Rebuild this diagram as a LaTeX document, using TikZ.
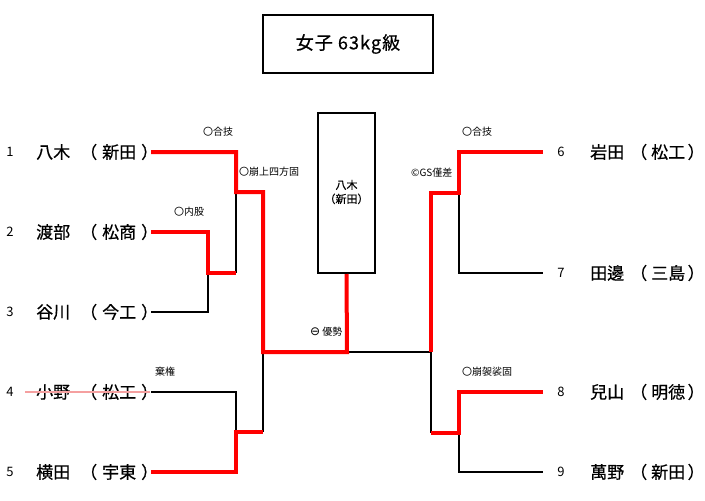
\documentclass[tikz,border=0pt]{standalone}
\usepackage{fontspec}
\setmainfont{Noto Sans CJK JP}
\newfontfamily\heavyfont[FakeBold=0.6]{Noto Sans CJK JP}
\newfontfamily\symfont{DejaVu Sans}
\usetikzlibrary{positioning}
\definecolor{strikepink}{RGB}{245,160,160}

\begin{document}
\begin{tikzpicture}[x=1pt, y=-1pt,
  win/.style={line width=4pt, red},
  lose/.style={line width=2pt, black},
  namefont/.style={font=\heavyfont\fontsize{17}{17}\selectfont, inner sep=0pt},
  numfont/.style={font=\fontsize{13}{13}\selectfont, inner sep=0pt},
  techfont/.style={font=\fontsize{10}{10}\selectfont, inner sep=0pt, anchor=west},
  frame/.style={draw, line width=2pt, inner sep=0pt}]

  % Parameters
  \def\xl{80}       % left edge of left clubs
  \def\xc{630}      % left edge of right clubs
  \def\xr{543}      % end of right lines
  \useasboundingbox (0,0) rectangle (705,501);

  % Title
  \node[frame, minimum width=170pt, minimum height=58pt,
        font=\heavyfont\fontsize{18}{18}\selectfont\addfontfeature{LetterSpace=6}]
      (title) at (348,44) {女子 63kg級};

  % Left entries
  \foreach \i/\y/\nm/\cl in {1/152/八木/新田, 2/232/渡部/松商, 3/312/谷川/今工,
                             4/392/小野/松工, 5/472/横田/宇東} {
    \node[numfont] (n\i) at (10,\y) {\i};
    \node[namefont, anchor=west] (p\i) at (36,\y) {\nm};
    \node[namefont, anchor=west] (c\i) at (\xl,\y) {（\hspace{5pt}\cl\hspace{5pt}）};
  }

  % Right entries
  \foreach \i/\y/\nm/\cl in {6/152/岩田/松工, 7/273/田邊/三島,
                             8/392/兒山/明徳, 9/472/萬野/新田} {
    \node[numfont] (n\i) at (561,\y) {\i};
    \node[namefont, anchor=west] (p\i) at (590,\y) {\nm};
    \node[namefont, anchor=west] (c\i) at (\xc,\y) {（\hspace{4pt}\cl\hspace{2.5pt}）};
    \coordinate (e\i) at (\xr,\y);
  }

  % Withdrawn
  \draw[line width=1.5pt, strikepink] (25,392) -- (150,392);

  % Winner box
  \node[frame, minimum width=57pt, minimum height=160pt] (champ) at (346.5,193) {};
  \node[inner sep=0pt, align=center, font=\heavyfont\fontsize{11}{14}\selectfont]
      (champname) at (346.5,192) {八木\\（新田）};

  % Junctions
  \coordinate (j23) at (208,273);
  \coordinate (j13) at (236,192);
  \coordinate (j45) at (236,432);
  \coordinate (jl) at (263,352);
  \coordinate (jf) at (347,352);
  \coordinate (jr) at (431,352);
  \coordinate (j67) at (459,193);
  \coordinate (j89) at (459,433);
  \coordinate (s1) at (151,152);
  \coordinate (s2) at (151,232);
  \coordinate (s3) at (151,312);
  \coordinate (s4) at (151,392);
  \coordinate (s5) at (151,472);

  % Losing lines
  \draw[lose] (s3) -| (j23);
  \draw[lose] (j13) -- (j13 |- j23);
  \draw[lose] (s4) -| (j45);
  \draw[lose] (jl |- j45) -- (jl);
  \draw[lose] (jf) -- (jr) -- (jr |- j89);
  \draw[lose] (j67) |- (e7);
  \draw[lose] (j89) |- (e9);

  % Winning lines
  \draw[win] (s2) -| (j23) -- (j13 |- j23);
  \draw[win] (s1) -| (j13) -- (jl |- j13) -- (jl) -- (jf) -- (champ.south);
  \draw[win] (s5) -| (j45) -- (jl |- j45);
  \draw[win] (jr) -- (jr |- j67) -- (j67) |- (e6);
  \draw[win] (jr |- j89) -- (j89) |- (e8);

  % Techniques
  \node[techfont] (t1) at (203,132) {〇合技};
  \node[techfont] (t2) at (174,212) {〇内股};
  \node[techfont] (t3) at (239,172) {〇崩上四方固};
  \node[techfont] (t4) at (155,372) {棄権};
  \node[techfont] (t5) at (310,332) {{\symfont\fontsize{12}{12}\selectfont ⊖} 優勢};
  \node[techfont] (t6) at (411,173) {©GS僅差};
  \node[techfont] (t7) at (462,132) {〇合技};
  \node[techfont] (t8) at (462,372) {〇崩袈裟固};
\end{tikzpicture}
\end{document}
